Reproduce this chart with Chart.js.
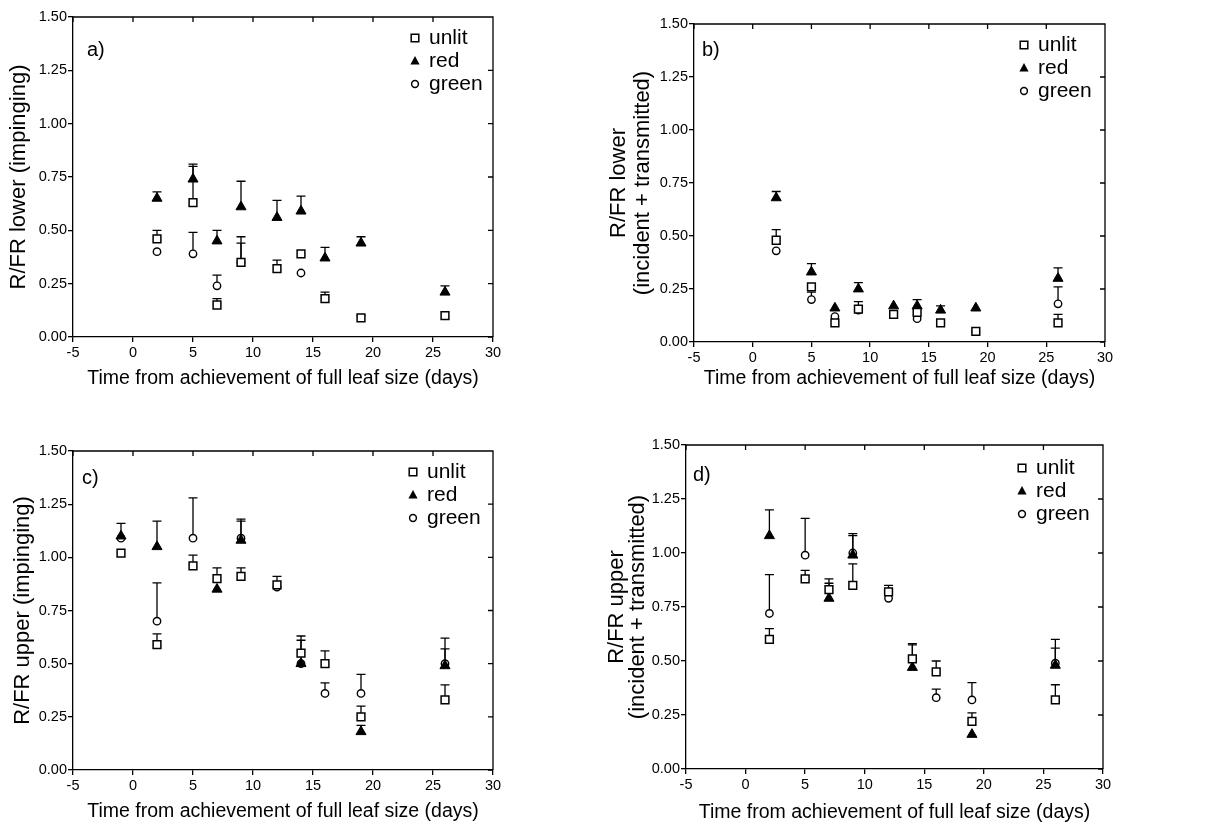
<!DOCTYPE html>
<html>
<head>
<meta charset="utf-8">
<script src="https://cdn.jsdelivr.net/npm/chart.js@4.4.0/dist/chart.umd.min.js"></script>
<style>
body { margin: 0; background: #fff; width: 1209px; height: 825px; overflow: hidden; position: relative; }
canvas { position: absolute; }
</style>
</head>
<body>
<canvas id="chartA" width="600" height="400" style="left:0;top:0;width:600px;height:400px"></canvas>
<canvas id="chartB" width="609" height="400" style="left:600px;top:0;width:609px;height:400px"></canvas>
<canvas id="chartC" width="600" height="425" style="left:0;top:400px;width:600px;height:425px"></canvas>
<canvas id="chartD" width="609" height="425" style="left:600px;top:400px;width:609px;height:425px"></canvas>
<script>
var seriesNames = ['unlit', 'red', 'green']
var xTicks = [-5, 0, 5, 10, 15, 20, 25, 30]
var yTicks = [0, 0.25, 0.5, 0.75, 1.0, 1.25, 1.5]

var days = [2, 5, 7, 9, 12, 14, 16, 19, 26]
var daysC = [-1, 2, 5, 7, 9, 12, 14, 16, 19, 26]

// a) lower, impinging
var aUnlit = [0.46, 0.63, 0.15, 0.35, 0.32, 0.39, 0.18, 0.09, 0.10]
var aUnlitTop = [0.50, 0.80, 0.18, 0.47, 0.36, null, 0.21, 0.10, null]
var aRed = [0.65, 0.74, 0.45, 0.61, 0.56, 0.59, 0.37, 0.44, 0.21]
var aRedTop = [0.68, 0.81, 0.50, 0.73, 0.64, 0.66, 0.42, 0.47, 0.24]
var aGreen = [0.40, 0.39, 0.24, 0.35, null, 0.30, null, null, null]
var aGreenTop = [null, 0.49, 0.29, 0.44, null, null, null, null, null]

// b) lower, incident + transmitted
var bUnlit = [0.48, 0.26, 0.09, 0.155, 0.13, 0.14, 0.09, 0.05, 0.09]
var bUnlitTop = [0.53, null, null, 0.19, null, null, null, null, 0.13]
var bRed = [0.68, 0.33, 0.16, 0.25, 0.17, 0.17, 0.15, 0.16, 0.30]
var bRedTop = [0.71, 0.37, null, 0.28, null, 0.20, 0.17, null, 0.35]
var bGreen = [0.43, 0.20, 0.12, 0.15, null, 0.11, null, 0.05, 0.18]
var bGreenTop = [null, 0.235, null, null, null, null, null, null, 0.26]

// c) upper, impinging
var cUnlit = [1.02, 0.59, 0.96, 0.90, 0.91, 0.87, 0.55, 0.50, 0.25, 0.33]
var cUnlitTop = [null, 0.64, 1.01, 0.95, 0.95, 0.91, 0.61, 0.56, 0.30, 0.40]
var cRed = [1.10, 1.05, null, 0.85, 1.08, null, 0.50, null, 0.18, 0.49]
var cRedTop = [1.16, 1.17, null, null, 1.18, null, 0.63, null, 0.21, 0.57]
var cGreen = [1.09, 0.70, 1.09, null, 1.09, 0.86, 0.50, 0.36, 0.36, 0.50]
var cGreenTop = [null, 0.88, 1.28, null, 1.17, null, null, 0.41, 0.45, 0.62]

// d) upper, incident + transmitted
var dUnlit = [0.60, 0.88, 0.83, 0.85, 0.82, 0.51, 0.45, 0.22, 0.32]
var dUnlitTop = [0.65, 0.92, 0.88, 0.95, 0.85, 0.58, 0.50, 0.26, 0.39]
var dRed = [1.08, null, 0.79, 0.99, null, 0.47, null, 0.16, 0.48]
var dRedTop = [1.20, null, 0.86, 1.09, null, 0.575, null, null, 0.60]
var dGreen = [0.72, 0.99, null, 1.00, 0.79, null, 0.33, 0.32, 0.49]
var dGreenTop = [0.90, 1.16, null, 1.08, null, null, 0.37, 0.40, 0.56]

var xTitle = 'Time from achievement of full leaf size (days)'
var FONT = '"Liberation Sans", Arial, sans-serif'
Chart.defaults.font.family = FONT
Chart.defaults.color = '#000'

function points(xs, ys, tops) {
    return xs.map(function (x, i) { return {x: x, y: ys[i], top: tops[i]} })
             .filter(function (p) { return p.y != null })
}

// vertical one-sided error bars with a cap
var errorBars = {
    id: 'errorBars',
    beforeDatasetsDraw: function (chart) {
        var ctx = chart.ctx, xs = chart.scales.x, ys = chart.scales.y
        ctx.save()
        ctx.strokeStyle = '#000'
        ctx.lineWidth = 1.3
        chart.data.datasets.forEach(function (ds) {
            ds.data.forEach(function (p) {
                if (p.top == null) return
                var x = xs.getPixelForValue(p.x)
                var y0 = ys.getPixelForValue(p.y), y1 = ys.getPixelForValue(p.top)
                ctx.beginPath()
                ctx.moveTo(x, y0); ctx.lineTo(x, y1)
                ctx.moveTo(x - 4.5, y1); ctx.lineTo(x + 4.5, y1)
                ctx.stroke()
            })
        })
        ctx.restore()
    }
}

// top/right frame, inner ticks, panel letter and the legend inside the box
var frame = {
    id: 'frame',
    afterDraw: function (chart, args, opts) {
        var ctx = chart.ctx, a = chart.chartArea, xs = chart.scales.x, ys = chart.scales.y
        ctx.save()
        ctx.strokeStyle = '#000'
        ctx.lineWidth = 1.3
        ctx.beginPath()
        ctx.moveTo(a.left, a.top); ctx.lineTo(a.right, a.top); ctx.lineTo(a.right, a.bottom)
        xs.ticks.forEach(function (t) {
            var x = xs.getPixelForValue(t.value)
            ctx.moveTo(x, a.top); ctx.lineTo(x, a.top + 5)
        })
        ys.ticks.forEach(function (t) {
            var y = ys.getPixelForValue(t.value)
            ctx.moveTo(a.right, y); ctx.lineTo(a.right - 5, y)
        })
        ctx.stroke()

        ctx.fillStyle = '#000'
        ctx.textBaseline = 'middle'
        ctx.textAlign = 'left'
        ctx.font = '20px ' + FONT
        ctx.fillText(opts.label, a.left + opts.labelDx, a.top + opts.labelDy)

        ctx.font = '21px ' + FONT
        var mx = a.right - opts.legDx
        seriesNames.forEach(function (name, i) {
            var my = a.top + opts.legDy + i * 23
            ctx.beginPath()
            ctx.lineWidth = 1.5
            if (i === 0) {
                ctx.fillStyle = '#fff'
                ctx.rect(mx - 3.8, my - 3.8, 7.6, 7.6)
                ctx.fill(); ctx.stroke()
            } else if (i === 1) {
                ctx.fillStyle = '#000'
                ctx.moveTo(mx, my - 5); ctx.lineTo(mx + 4.6, my + 3.4); ctx.lineTo(mx - 4.6, my + 3.4)
                ctx.closePath(); ctx.fill()
            } else {
                ctx.fillStyle = '#fff'
                ctx.arc(mx, my, 3.4, 0, Math.PI * 2)
                ctx.fill(); ctx.stroke()
            }
            ctx.fillStyle = '#000'
            ctx.fillText(name, mx + 14, my)
        })
        ctx.restore()
    }
}

function makePanel(id, xs, series, yTitle, lay) {
    var ctx = document.getElementById(id).getContext('2d')
    return new Chart(ctx, {
        type: 'scatter',
        data: {
            datasets: [{
                label: seriesNames[0],
                data: points(xs, series[0], series[1]),
                pointStyle: 'rect', pointRadius: 5.5, pointHoverRadius: 5.5,
                backgroundColor: '#fff', borderColor: '#000', borderWidth: 1.5
            }, {
                label: seriesNames[1],
                data: points(xs, series[2], series[3]),
                pointStyle: 'triangle', pointRadius: 5.8, pointHoverRadius: 5.8,
                backgroundColor: '#000', borderColor: '#000', borderWidth: 1
            }, {
                label: seriesNames[2],
                data: points(xs, series[4], series[5]),
                pointStyle: 'circle', pointRadius: 3.7, pointHoverRadius: 3.7,
                backgroundColor: '#fff', borderColor: '#000', borderWidth: 1.4
            }]
        },
        options: {
            responsive: false,
            animation: false,
            layout: { padding: { top: lay.top, right: lay.right, left: 0, bottom: 0 } },
            plugins: {
                legend: { display: false },
                tooltip: { enabled: false },
                frame: { label: lay.label, labelDx: lay.labelDx, labelDy: lay.labelDy, legDx: lay.legDx, legDy: lay.legDy }
            },
            scales: {
                x: {
                    type: 'linear', min: -5, max: 30,
                    afterBuildTicks: function (s) { s.ticks = xTicks.map(function (v) { return {value: v} }) },
                    afterFit: function (s) { s.height = lay.xh },
                    grid: { drawOnChartArea: false, tickLength: 5, color: '#000', lineWidth: 1.3 },
                    border: { color: '#000', width: 1.3 },
                    ticks: { font: { size: 14.5 }, padding: 2, maxRotation: 0 },
                    title: { display: true, text: xTitle, font: { size: 19.5 }, padding: { top: 0, bottom: lay.xtPad } }
                },
                y: {
                    type: 'linear', min: 0, max: 1.5,
                    afterBuildTicks: function (s) { s.ticks = yTicks.map(function (v) { return {value: v} }) },
                    afterFit: function (s) { s.width = lay.yw },
                    grid: { drawOnChartArea: false, tickLength: 5, color: '#000', lineWidth: 1.3 },
                    border: { color: '#000', width: 1.3 },
                    ticks: { font: { size: 14.5 }, padding: 1, callback: function (v) { return v.toFixed(2) } },
                    title: { display: true, text: yTitle, font: { size: 22, lineHeight: lay.ytLh }, padding: { top: lay.ytPad, bottom: 0 } }
                }
            }
        },
        plugins: [errorBars, frame]
    })
}

makePanel('chartA', days, [aUnlit, aUnlitTop, aRed, aRedTop, aGreen, aGreenTop],
    'R/FR lower (impinging)',
    { top: 17, right: 107, yw: 73, xh: 63, xtPad: 10, ytPad: 6, ytLh: 1.2, label: 'a)', labelDx: 14, labelDy: 33, legDx: 78, legDy: 21 })

makePanel('chartB', days, [bUnlit, bUnlitTop, bRed, bRedTop, bGreen, bGreenTop],
    ['R/FR lower', '(incident + transmitted)'],
    { top: 24, right: 104, yw: 94, xh: 58, xtPad: 10, ytPad: 7, ytLh: 1.1, label: 'b)', labelDx: 8, labelDy: 26, legDx: 81, legDy: 21 })

makePanel('chartC', daysC, [cUnlit, cUnlitTop, cRed, cRedTop, cGreen, cGreenTop],
    'R/FR upper (impinging)',
    { top: 51, right: 107, yw: 73, xh: 55, xtPad: 1.3, ytPad: 10, ytLh: 1.2, label: 'c)', labelDx: 9, labelDy: 27, legDx: 80, legDy: 21 })

makePanel('chartD', days, [dUnlit, dUnlitTop, dRed, dRedTop, dGreen, dGreenTop],
    ['R/FR upper', '(incident + transmitted)'],
    { top: 45, right: 106, yw: 86, xh: 56, xtPad: 0.3, ytPad: 6, ytLh: 0.96, label: 'd)', labelDx: 7, labelDy: 30, legDx: 81, legDy: 23 })
</script>
</body>
</html>
